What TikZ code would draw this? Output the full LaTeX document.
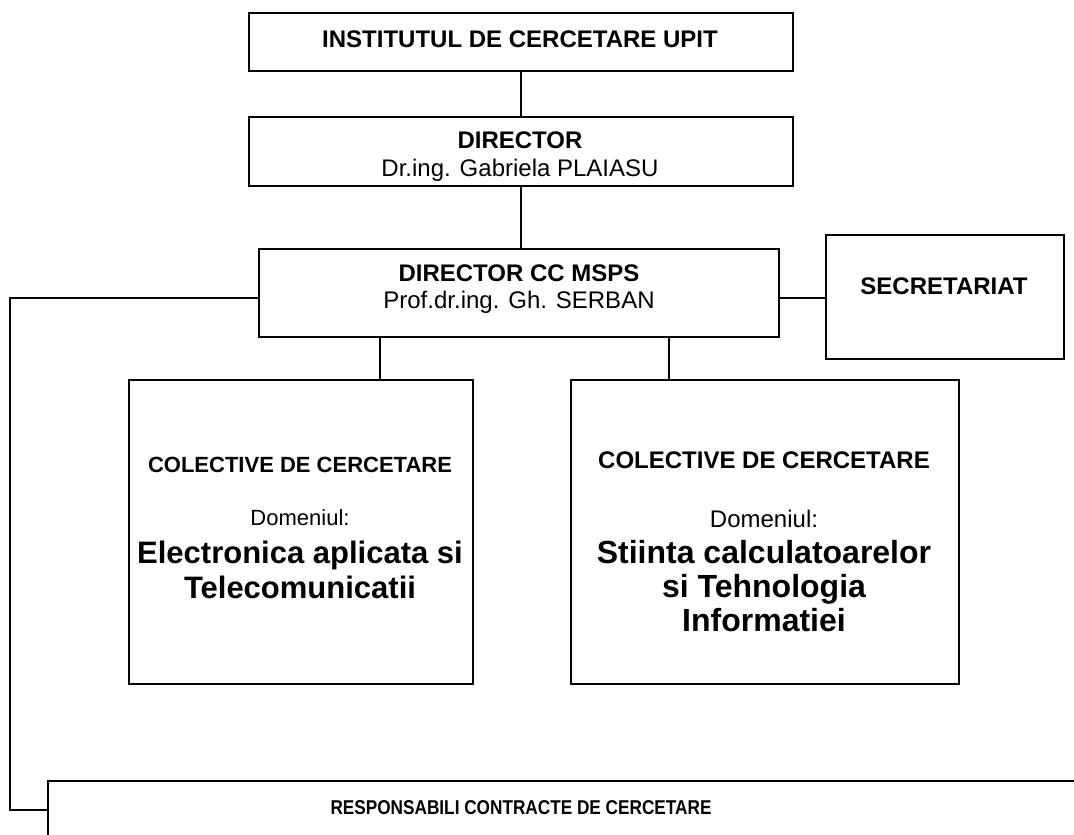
\documentclass[tikz,border=0pt]{standalone}
\usepackage{fontspec}
\setmainfont{Liberation Sans}
\begin{document}
\begin{tikzpicture}[x=1pt,y=-1pt,
  box/.style={draw,line width=1.6pt,inner sep=0pt,anchor=north west},
  conn/.style={line width=1.6pt},
  hd/.style={font=\fontsize{24}{28}\selectfont\bfseries,inner sep=0pt,anchor=base},
  nm/.style={font=\fontsize{24}{28}\selectfont,inner sep=0pt,anchor=base},
  hdl/.style={font=\fontsize{22}{26}\selectfont\bfseries,inner sep=0pt,anchor=base},
  nml/.style={font=\fontsize{22}{26}\selectfont,inner sep=0pt,anchor=base},
  bigl/.style={font=\fontsize{31}{34}\selectfont\bfseries,inner sep=0pt,anchor=base},
  bigr/.style={font=\fontsize{32}{34}\selectfont\bfseries,inner sep=0pt,anchor=base}]
\clip (0,0) rectangle (1074,835);
\useasboundingbox (0,0) rectangle (1074,835);
% boxes
\node[box,minimum width=544pt,minimum height=58pt] (inst) at (248,12) {};
\node[box,minimum width=544pt,minimum height=69pt] (dir) at (248,116) {};
\node[box,minimum width=520pt,minimum height=88pt] (cc) at (258,248) {};
\node[box,minimum width=238pt,minimum height=124pt] (sec) at (825,234) {};
\node[box,minimum width=344pt,minimum height=304pt] (col1) at (128,379) {};
\node[box,minimum width=388pt,minimum height=304pt] (col2) at (570,379) {};
\node[box,minimum width=1100pt,minimum height=120pt] (resp) at (47,780) {};
% texts
\node[hd] (t1) at (520,47) {INSTITUTUL DE CERCETARE UPIT};
\node[hd] (t2) at (520,148) {DIRECTOR};
\node[nm] (t3) at (520,176) {Dr.ing. Gabriela PLAIASU};
\node[hd] (t4) at (519,281) {DIRECTOR CC MSPS};
\node[nm] (t5) at (519,308) {Prof.dr.ing. Gh. SERBAN};
\node[hd] (t6) at (944,294) {SECRETARIAT};
\node[hdl] (t7) at (300,472) {COLECTIVE DE CERCETARE};
\node[nml] (t8) at (300,525) {Domeniul:};
\node[bigl] (t9) at (300,563) {Electronica aplicata si};
\node[bigl] (t9b) at (300,598) {Telecomunicatii};
\node[hd] (t10) at (764,468) {COLECTIVE DE CERCETARE};
\node[nm] (t11) at (764,527) {Domeniul:};
\node[bigr] (t12) at (764,563) {Stiinta calculatoarelor};
\node[bigr] (t12b) at (764,597) {si Tehnologia};
\node[bigr] (t12c) at (764,631) {Informatiei};
\node[hd,font=\fontsize{20}{22}\selectfont\bfseries] (t13) at (521,814) {\scalebox{0.86}[1]{RESPONSABILI CONTRACTE DE CERCETARE}};
% connectors
\draw[conn] (inst.south) -- (dir.north);
\draw[conn] (dir.south) -- (dir.south |- cc.north);
\coordinate (r1) at (778,298);
\draw[conn] (cc.east |- r1) -- (sec.west |- r1);
\coordinate (c1) at (380,0);
\coordinate (c2) at (669,0);
\draw[conn] (c1 |- cc.south) -- (c1 |- col1.north);
\draw[conn] (c2 |- cc.south) -- (c2 |- col2.north);
\coordinate (lc) at (10,298);
\draw[conn] (cc.west |- lc) -- (lc) -- (lc |- 0,810) -- (resp.west |- 0,810);
\end{tikzpicture}
\end{document}
